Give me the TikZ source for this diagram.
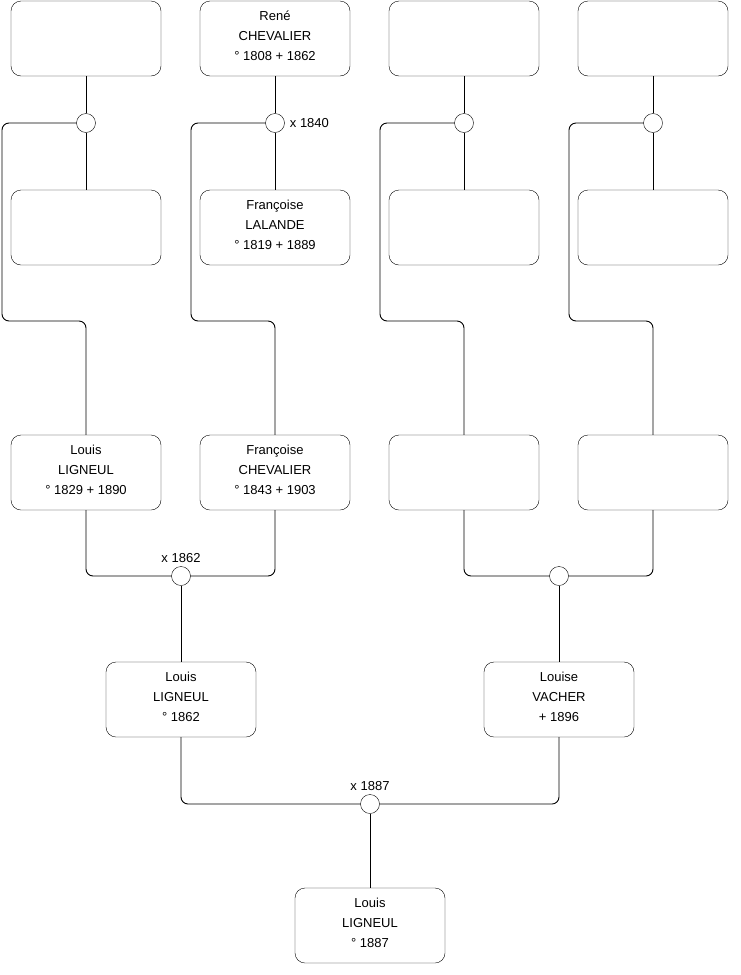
\documentclass[tikz,border=0pt]{standalone}
\usepackage{fontspec}
\setmainfont{Liberation Sans}
\usetikzlibrary{positioning}

\begin{document}
\begin{tikzpicture}[
  x=1pt,y=-1pt,
  pers/.style={rectangle,draw,rounded corners=10pt,minimum width=150pt,minimum height=75pt,align=center,inner sep=0pt,text depth=6pt,font=\fontsize{13}{20}\selectfont},
  wed/.style={circle,draw,fill=white,minimum size=19pt,inner sep=0pt},
  yr/.style={font=\fontsize{13}{15}\selectfont,inner sep=1pt},
  lnk/.style={line width=0.9pt,rounded corners=7pt}
]
\useasboundingbox (0,0) rectangle (740,975);
% great-grandparents
\node[pers] (a1) at (86,38.5) {};
\node[pers] (a2) at (275,38.5) {René\\CHEVALIER\\° 1808 + 1862};
\node[pers] (a3) at (464,38.5) {};
\node[pers] (a4) at (653,38.5) {};
\node[wed] (m1) at (86,123) {};
\node[wed] (m2) at (275,123) {};
\node[wed] (m3) at (464,123) {};
\node[wed] (m4) at (653,123) {};
\node[yr,right=4pt of m2] (y2) {x 1840};
\node[pers] (b1) at (86,227.5) {};
\node[pers] (b2) at (275,227.5) {Françoise\\LALANDE\\° 1819 + 1889};
\node[pers] (b3) at (464,227.5) {};
\node[pers] (b4) at (653,227.5) {};
% grandparents
\node[pers] (c1) at (86,472.5) {Louis\\LIGNEUL\\° 1829 + 1890};
\node[pers] (c2) at (275,472.5) {Françoise\\CHEVALIER\\° 1843 + 1903};
\node[pers] (c3) at (464,472.5) {};
\node[pers] (c4) at (653,472.5) {};
\node[wed] (m5) at (181,576) {};
\node[wed] (m6) at (559,576) {};
\node[yr,above=2pt of m5] (y5) {x 1862};
% parents
\node[pers] (d1) at (181,699.5) {Louis\\LIGNEUL\\° 1862};
\node[pers] (d2) at (559,699.5) {Louise\\VACHER\\+ 1896};
\node[wed] (m7) at (370,804) {};
\node[yr,above=2pt of m7] (y7) {x 1887};
\node[pers] (e1) at (370,925.5) {Louis\\LIGNEUL\\° 1887};

\foreach \i/\x in {1/2,2/191,3/380,4/569}{
  \draw[lnk] (a\i.south) -- (m\i.north);
  \draw[lnk] (m\i.south) -- (b\i.north);
  \draw[lnk] (m\i.west) -| (\x,321) -| (c\i.north);
}
\draw[lnk] (c1.south) |- (m5.west);
\draw[lnk] (c2.south) |- (m5.east);
\draw[lnk] (c3.south) |- (m6.west);
\draw[lnk] (c4.south) |- (m6.east);
\draw[lnk] (m5.south) -- (d1.north);
\draw[lnk] (m6.south) -- (d2.north);
\draw[lnk] (d1.south) |- (m7.west);
\draw[lnk] (d2.south) |- (m7.east);
\draw[lnk] (m7.south) -- (e1.north);
\end{tikzpicture}
\end{document}
